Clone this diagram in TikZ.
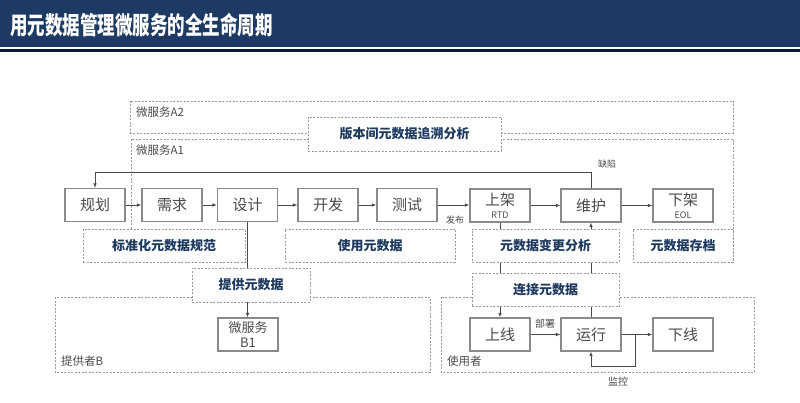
\documentclass[tikz,border=0pt]{standalone}
\usepackage{fontspec}
\setmainfont{Noto Sans CJK SC}
\usetikzlibrary{arrows.meta}
\pgfdeclarelayer{bg}
\pgfsetlayers{bg,main}
\definecolor{navy}{HTML}{1C3A63}
\definecolor{navydark}{HTML}{0E1B30}
\definecolor{lbl}{HTML}{1F3A5F}
\definecolor{boxline}{HTML}{8A8A8A}
\definecolor{txt}{HTML}{4A4A4A}
\definecolor{dashc}{HTML}{9A9A9A}
\tikzset{
 proc/.style={draw=boxline, line width=1.1pt, fill=white, minimum width=60pt, minimum height=33pt, inner sep=0pt, text=txt, font=\fontsize{15}{16}\selectfont, align=center},
 mdbox/.style={draw=dashc, dash pattern=on 2pt off 1.5pt, line width=0.9pt, fill=white, inner sep=0pt, text=lbl, font=\fontsize{13}{14}\selectfont\bfseries},
 region/.style={draw=dashc, dash pattern=on 2pt off 1.5pt, line width=0.9pt},
 conn/.style={draw=txt, line width=0.8pt},
 arr/.style={conn, -{Latex[length=4.5pt,width=3.5pt]}},
 small/.style={text=txt, font=\fontsize{9}{10}\selectfont, inner sep=0pt},
 tag/.style={text=txt, font=\fontsize{11.5}{12}\selectfont, inner sep=0pt, anchor=west},
}
\begin{document}
\begin{tikzpicture}[x=1pt,y=-1pt]
\useasboundingbox (0,0) rectangle (800,403);
% title band
\fill[navy] (0,0) rectangle (800,47);
\fill[navydark] (0,49.5) rectangle (800,52.5);
\node[anchor=west, text=white, inner sep=0pt, font=\fontsize{17.5}{20}\selectfont\bfseries] (title) at (10,25) {\scalebox{1}[1.4]{用元数据管理微服务的全生命周期}};

% regions
\draw[region] (130,101) rectangle (733,133);
\node[tag] (tA2) at (136,112) {微服务A2};
\draw[region] (131,229) -- (131,139) -- (733,139) -- (733,262);
\node[tag] (tA1) at (136,150) {微服务A1};
\draw[region] (55,297) rectangle (430,372);
\node[tag] (tB) at (61,361) {提供者B};
\draw[region] (441,297) rectangle (754,372);
\node[tag] (tU) at (447,361) {使用者};

% dashed metadata boxes
\node[mdbox, minimum width=193pt, minimum height=34pt] (ver) at (404.5,134) {版本间元数据追溯分析};
\node[mdbox, minimum width=162pt, minimum height=33pt] (std) at (164,246) {标准化元数据规范};
\node[mdbox, minimum width=170pt, minimum height=33pt] (use) at (370,245.5) {使用元数据};
\node[mdbox, minimum width=147pt, minimum height=33pt] (chg) at (545.5,245.5) {元数据变更分析};
\node[mdbox, minimum width=100pt, minimum height=33pt] (arc) at (683,245.5) {元数据存档};
\node[mdbox, minimum width=118pt, minimum height=34pt] (prov) at (251,285) {提供元数据};
\node[mdbox, minimum width=147pt, minimum height=33pt] (cnx) at (545.5,290) {连接元数据};

% process boxes
\node[proc] (gh) at (95,205) {规划};
\node[proc] (xq) at (172,205) {需求};
\node[proc] (sj) at (247.5,205) {设计};
\node[proc] (kf) at (328,205) {开发};
\node[proc] (cs) at (407,205) {测试};
\node[proc] (sjia) at (500,205.5) {上架\\[-3pt]{\fontsize{9}{10}\selectfont RTD}};
\node[proc] (wh) at (591,205.5) {维护};
\node[proc] (xj) at (683,205.5) {下架\\[-3pt]{\fontsize{9}{10}\selectfont EOL}};
\node[proc, font=\fontsize{13}{15}\selectfont] (b1) at (248,334.5) {微服务\\B1};
\node[proc] (sx) at (500,334.5) {上线};
\node[proc] (yx) at (591,334.5) {运行};
\node[proc] (xx) at (683,334.5) {下线};

% vertical connectors behind boxes
\begin{pgfonlayer}{bg}
\draw[arr] (sj.south) -- (sj.south |- b1.north);
\draw[arr] (sjia.south) -- (sx.north);
\draw[arr] (yx.north) -- (wh.south);
\end{pgfonlayer}

% main flow
\draw[arr] (gh) -- (xq);
\draw[arr] (xq) -- (sj);
\draw[arr] (sj) -- (kf);
\draw[arr] (kf) -- (cs);
\draw[arr] (cs.east) -- (cs.east -| sjia.west);
\node[small] (fb) at (455,220) {发布};
\draw[arr] (sjia) -- (wh);
\draw[arr] (wh) -- (xj);
\draw[arr] (wh.north) -- ++(0,-16) -| (gh.north);
\node[small] (qx) at (607,164) {缺陷};

% bottom flow
\draw[arr] (sx) -- (yx);
\node[small, font=\fontsize{10}{11}\selectfont] (bs) at (545,324) {部署};
\draw[arr] (yx) -- (xx);
\coordinate (jn) at (635,334.5);
\draw[arr] (jn) -- ++(0,31.5) -| (yx.south);
\node[small, font=\fontsize{10}{11}\selectfont] (jk) at (618,382) {监控};
\end{tikzpicture}
\end{document}
